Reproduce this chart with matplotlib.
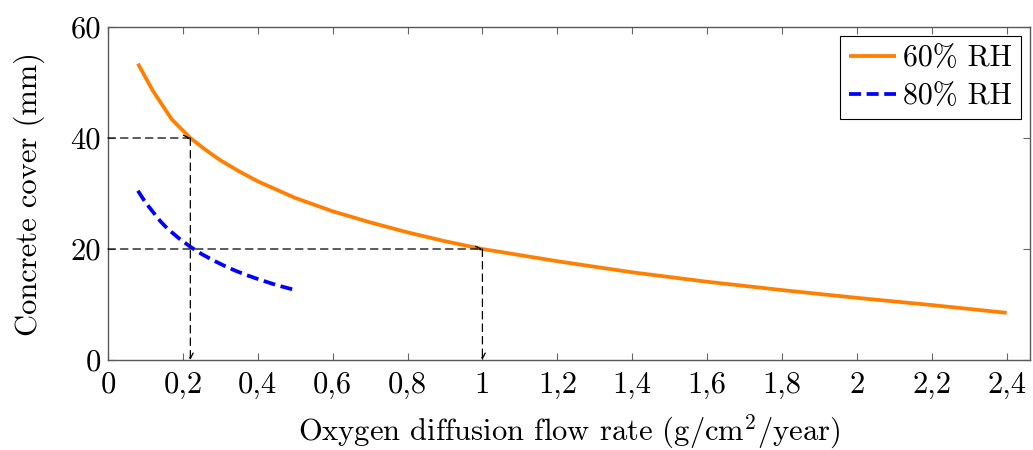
import matplotlib
matplotlib.use("Agg")
import matplotlib.pyplot as plt

plt.rcParams['font.family'] = ['cmr10', 'DejaVu Serif']
plt.rcParams['mathtext.fontset'] = 'cm'
plt.rcParams['axes.unicode_minus'] = False

# data
x60 = [0.08, 0.12, 0.17, 0.22, 0.26, 0.3, 0.35, 0.4, 0.5, 0.6, 0.7, 0.8, 0.9, 1.0, 1.2, 1.4, 1.6, 1.8, 2.0, 2.2, 2.4]
y60 = [53.4, 48.5, 43.4, 40.0, 37.9, 36.0, 34.0, 32.2, 29.2, 26.8, 24.8, 23.0, 21.4, 20.0, 17.8, 15.8, 14.1, 12.6, 11.2, 9.9, 8.5]
x80 = [0.08, 0.1, 0.12, 0.14, 0.16, 0.19, 0.22, 0.25, 0.28, 0.31, 0.34, 0.37, 0.4, 0.45, 0.5]
y80 = [30.5, 28.4, 26.7, 25.0, 23.6, 21.9, 20.4, 19.1, 18.0, 17.0, 16.1, 15.3, 14.6, 13.5, 12.6]
xticks = [0, 0.2, 0.4, 0.6, 0.8, 1.0, 1.2, 1.4, 1.6, 1.8, 2.0, 2.2, 2.4]
xticklabels = ['0', '0,2', '0,4', '0,6', '0,8', '1', '1,2', '1,4', '1,6', '1,8', '2', '2,2', '2,4']
yticks = [0, 20, 40, 60]
# guide lines: (x, y) of marked points
guides = [(0.22, 40), (1.0, 20)]

fig = plt.figure(figsize=(10.33, 4.5), dpi=100)
ax = fig.add_axes([0.1045, 0.2, 0.8925, 0.74])

ax.plot(x60, y60, color='#ff7f00', lw=2.7, label='60% RH', solid_capstyle='butt', solid_joinstyle='round')
ax.plot(x80, y80, color='#0000ff', lw=2.7, dashes=(3.2, 1.5), label='80% RH')

for gx, gy in guides:
    ax.annotate('', xy=(gx, gy), xytext=(0, gy),
                arrowprops=dict(arrowstyle='->', lw=0.9, ls=(0, (6, 4)), color='black',
                                shrinkA=0, shrinkB=0, mutation_scale=10))
    ax.annotate('', xy=(gx, 0), xytext=(gx, gy),
                arrowprops=dict(arrowstyle='->', lw=0.9, ls=(0, (6, 4)), color='black',
                                shrinkA=0, shrinkB=0, mutation_scale=10))

ax.set_xlim(0, 2.462)
ax.set_ylim(0, 60)
ax.set_xticks(xticks)
ax.set_xticklabels(xticklabels)
ax.set_yticks(yticks)
ax.tick_params(direction='in', top=True, right=True, length=5, width=0.8,
               color='0.4', labelsize=22)
ax.tick_params(axis='x', pad=8)
ax.tick_params(axis='y', pad=5)
for s in ax.spines.values():
    s.set_color('0.35')
    s.set_linewidth(1.0)

ax.set_xlabel('Oxygen diffusion flow rate (g/cm$^2$/year)', fontsize=22, labelpad=10)
ax.set_ylabel('Concrete cover (mm)', fontsize=22, labelpad=18)

leg = ax.legend(loc='upper right', fontsize=21.5, frameon=True, fancybox=False,
                handlelength=1.55, handletextpad=0.25, borderpad=0.3, labelspacing=0.35,
                borderaxespad=0.3)
leg.get_frame().set_edgecolor('black')
leg.get_frame().set_linewidth(0.8)
leg.get_frame().set_alpha(1)

fig.savefig('out.png', dpi=100)
